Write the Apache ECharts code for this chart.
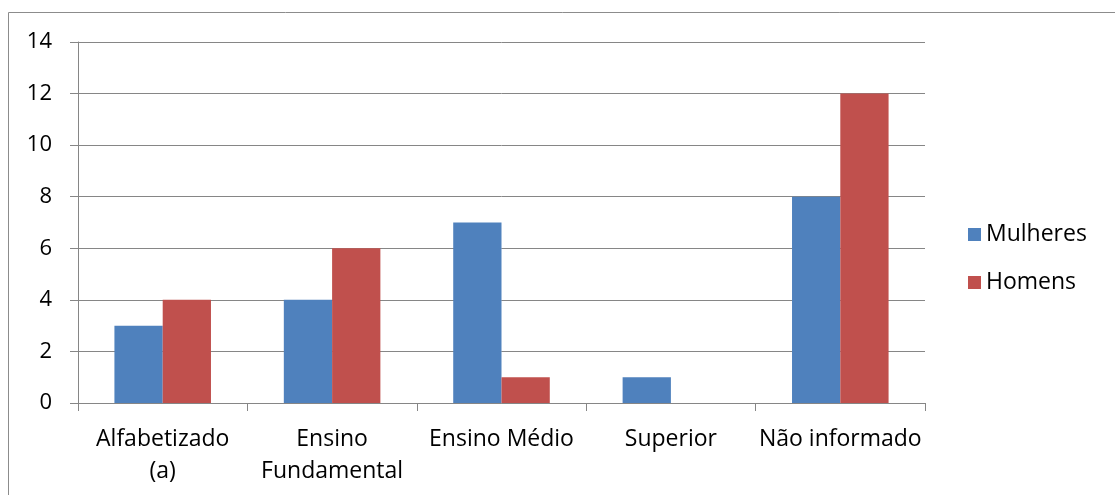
<!DOCTYPE html>
<html><head><meta charset="utf-8">
<script src="https://cdn.jsdelivr.net/npm/echarts@6/dist/echarts.min.js"></script>
<style>html,body{margin:0;padding:0;background:#fff}#c{width:1115px;height:495px}</style>
</head><body><div id="c"></div>
<script>
const categories = ['Alfabetizado\n(a)', 'Ensino\nFundamental', 'Ensino Médio', 'Superior', 'Não informado'];
const mulheres = [3, 4, 7, 1, 8];
const homens = [4, 6, 1, 0, 12];
const seriesNames = ['Mulheres', 'Homens'];
const FONT = '"Open Sans", sans-serif';
const chart = echarts.init(document.getElementById('c'));
chart.setOption({
  animation: false,
  graphic: [{type:'rect', shape:{x:8.5,y:12.5,width:1200,height:600}, style:{fill:'none', stroke:'#8c8c8c', lineWidth:1}, silent:true}],
  grid: {left: 78, right: 190, top: 42, bottom: 92},
  legend: {
    orient: 'vertical', left: 963, top: 218, itemWidth: 13, itemHeight: 13, itemGap: 25,
    icon: 'rect', textStyle: {fontFamily: FONT, fontSize: 23, color: '#000'},
    data: seriesNames
  },
  xAxis: {
    type: 'category', data: categories,
    axisLine: {lineStyle: {color: '#868686'}},
    axisTick: {show: true, length: 8, lineStyle: {color: '#868686'}},
    axisLabel: {fontFamily: FONT, fontSize: 23, color: '#000', margin: 20, lineHeight: 32, interval: 0}
  },
  yAxis: {
    type: 'value', min: 0, max: 14, interval: 2,
    axisLine: {show: true, lineStyle: {color: '#868686'}},
    axisTick: {show: true, length: 8, lineStyle: {color: '#868686'}},
    splitLine: {lineStyle: {color: '#868686'}},
    axisLabel: {fontFamily: FONT, fontSize: 22, color: '#000', margin: 26}
  },
  series: [
    {name: seriesNames[0], type: 'bar', data: mulheres, itemStyle: {color: '#4F81BD'}, barGap: '0%', barCategoryGap: '43%'},
    {name: seriesNames[1], type: 'bar', data: homens, itemStyle: {color: '#C0504D'}, barGap: '0%', barCategoryGap: '43%'}
  ]
});
</script></body></html>
